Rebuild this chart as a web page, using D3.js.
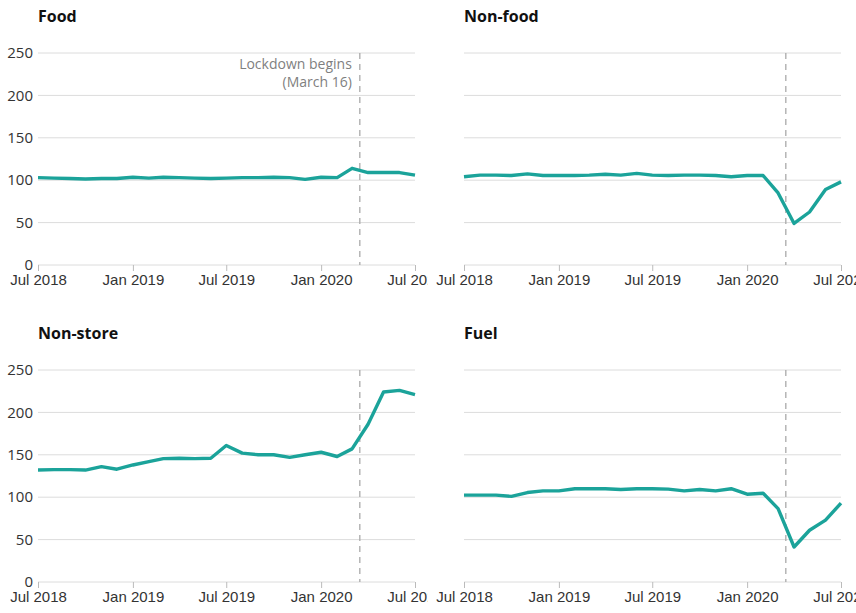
<!DOCTYPE html>
<html>
<head>
<meta charset="utf-8">
<script src="https://cdn.jsdelivr.net/npm/d3@7"></script>
<style>
  body { margin: 0; background: #fff; }
  svg { font-family: "Open Sans", sans-serif; }
  .grid line { stroke: #dcdcdc; }
  .tick text { fill: #333; font-size: 15px; }
</style>
</head>
<body>
<div id="chart"></div>
<script>
const width = 856;
const height = 613;

// monthly index values, Jul 2018 - Jul 2020
const months = ["2018-07","2018-08","2018-09","2018-10","2018-11","2018-12",
  "2019-01","2019-02","2019-03","2019-04","2019-05","2019-06",
  "2019-07","2019-08","2019-09","2019-10","2019-11","2019-12",
  "2020-01","2020-02","2020-03","2020-04","2020-05","2020-06","2020-07"];

const food = [103, 102.5, 102, 101.5, 102, 102, 103.5, 102.5, 103.5, 103, 102.5, 102,
  102.5, 103, 103, 103.5, 103, 101, 103.5, 103, 114, 109, 109, 109, 106];
const nonFood = [104, 106, 106, 105.5, 107.5, 105.5, 105.5, 105.5, 106, 107, 106, 108,
  106, 105.5, 106, 106, 105.5, 104, 105.5, 105.5, 85, 49, 62.5, 89, 98];
const nonStore = [132, 132.5, 132.5, 132, 136, 133, 138, 142, 145.5, 146, 145.5, 146,
  161, 152, 150, 150, 147, 150, 153, 148, 157, 186, 224, 226, 221];
const fuel = [102.4, 102.4, 102.4, 101, 105.5, 107.5, 107.5, 110, 110, 110, 109, 110,
  110, 109.5, 107.5, 109, 107.5, 110, 103.5, 104.7, 86.6, 41.3, 61, 73, 93];

const yTicks = [0, 50, 100, 150, 200, 250];
const xTicks = ["2018-07", "2019-01", "2019-07", "2020-01", "2020-07"];
const lockdownDate = "2020-03-16";

const parse = d3.timeParse("%Y-%m");
const dates = months.map(parse);

const panels = [
  {title: "Food", values: food, left: 0, top: 0, yLabels: true, note: true},
  {title: "Non-food", values: nonFood, left: 428, top: 0, yLabels: false, note: false},
  {title: "Non-store", values: nonStore, left: 0, top: 317, yLabels: true, note: false},
  {title: "Fuel", values: fuel, left: 428, top: 317, yLabels: false, note: false}
];

const pw = 428, ph = 300;
const margin = {top: 53, left: 38, right: 13, bottom: 35};

const svg = d3.select("#chart").append("svg")
  .attr("width", width)
  .attr("height", height);

const x = d3.scaleTime()
  .domain([parse("2018-07"), parse("2020-07")])
  .range([0, pw - margin.left - margin.right]);

const y = d3.scaleLinear()
  .domain([0, 250])
  .range([212, 0]);

const line = d3.line()
  .x((d, i) => x(dates[i]))
  .y(d => y(d));

panels.forEach(p => {
  const ml = p.left === 0 ? margin.left : 36;
  // nested svg clips the last tick label like the original
  const box = svg.append("svg")
    .attr("x", p.left)
    .attr("y", p.top)
    .attr("width", pw)
    .attr("height", ph);

  box.append("text")
    .attr("x", ml)
    .attr("y", 22)
    .attr("font-size", 16)
    .attr("font-weight", "bold")
    .attr("fill", "#111")
    .text(p.title);

  const g = box.append("g").attr("transform", `translate(${ml},${margin.top})`);

  const grid = g.append("g").attr("class", "grid");
  grid.selectAll("line")
    .data(yTicks)
    .enter()
    .append("line")
    .attr("x1", 0)
    .attr("x2", x.range()[1])
    .attr("y1", d => y(d))
    .attr("y2", d => y(d));

  if (p.yLabels) {
    g.selectAll(".ylab")
      .data(yTicks)
      .enter()
      .append("text")
      .attr("class", "ylab")
      .attr("x", -5)
      .attr("y", d => y(d))
      .attr("dy", "0.35em")
      .attr("text-anchor", "end")
      .attr("font-size", 15)
      .attr("fill", "#333")
      .text(d => d);
  }

  const xAxis = d3.axisBottom(x)
    .tickValues(xTicks.map(parse))
    .tickFormat(d3.timeFormat("%b %Y"))
    .tickSize(6)
    .tickPadding(3);

  const ax = g.append("g")
    .attr("transform", `translate(0,${y(0)})`)
    .call(xAxis);
  ax.select(".domain").remove();
  ax.selectAll(".tick line").attr("stroke", "#bbb");

  const lx = x(d3.timeParse("%Y-%m-%d")(lockdownDate));
  g.append("line")
    .attr("x1", lx)
    .attr("x2", lx)
    .attr("y1", 0)
    .attr("y2", y(0))
    .attr("stroke", "#aaa")
    .attr("stroke-width", 1.3)
    .attr("stroke-dasharray", "6,5");

  if (p.note) {
    const t = g.append("text")
      .attr("text-anchor", "end")
      .attr("font-size", 14)
      .attr("fill", "#7f7f7f");
    t.append("tspan").attr("x", lx - 8).attr("y", 16).text("Lockdown begins");
    t.append("tspan").attr("x", lx - 8).attr("y", 34).text("(March 16)");
  }

  g.append("path")
    .datum(p.values)
    .attr("fill", "none")
    .attr("stroke", "#1ba39a")
    .attr("stroke-width", 3.4)
    .attr("stroke-linejoin", "round")
    .attr("d", line);
});
</script>
</body>
</html>
